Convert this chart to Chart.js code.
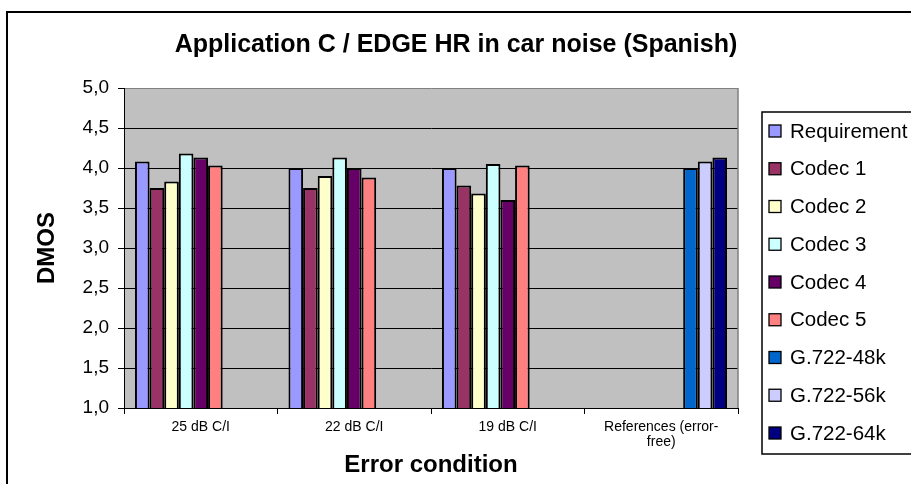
<!DOCTYPE html>
<html>
<head>
<meta charset="utf-8">
<script src="https://cdn.jsdelivr.net/npm/chart.js@4/dist/chart.umd.min.js"></script>
<style>
  html, body { margin: 0; padding: 0; background: #fff; }
  canvas { display: block; }
</style>
</head>
<body>
<canvas id="chart" width="911" height="484"></canvas>
<script>
// Error conditions on the category axis
const categories = ['25 dB C/I', '22 dB C/I', '19 dB C/I', ['References (error-', 'free)']];

// DMOS scores per series (null where the series is not tested)
const requirement = [4.08, 4.00, 4.00, null];
const codec1      = [3.75, 3.75, 3.78, null];
const codec2      = [3.83, 3.90, 3.68, null];
const codec3      = [4.18, 4.13, 4.05, null];
const codec4      = [4.13, 4.00, 3.60, null];
const codec5      = [4.03, 3.88, 4.03, null];
const g722_48k    = [null, null, null, 4.00];
const g722_56k    = [null, null, null, 4.08];
const g722_64k    = [null, null, null, 4.13];

// Value axis tick values
const yTickValues = [1.0, 1.5, 2.0, 2.5, 3.0, 3.5, 4.0, 4.5, 5.0];

const chartTitle = 'Application C / EDGE HR in car noise (Spanish)';
const FONT = "'Liberation Sans', Arial, Helvetica, sans-serif";

const series = [
  { label: 'Requirement', data: requirement, color: '#9999FF' },
  { label: 'Codec 1',     data: codec1,      color: '#993366' },
  { label: 'Codec 2',     data: codec2,      color: '#FFFFCC' },
  { label: 'Codec 3',     data: codec3,      color: '#CCFFFF' },
  { label: 'Codec 4',     data: codec4,      color: '#660066' },
  { label: 'Codec 5',     data: codec5,      color: '#FF8080' },
  { label: 'G.722-48k',   data: g722_48k,    color: '#0066CC' },
  { label: 'G.722-56k',   data: g722_56k,    color: '#CCCCFF' },
  { label: 'G.722-64k',   data: g722_64k,    color: '#000080' }
];

// Frame, grey plot area, title and the boxed legend on the right
const decorations = {
  id: 'decorations',
  beforeDraw(chart) {
    const { ctx, chartArea: a } = chart;
    ctx.save();
    ctx.fillStyle = '#fff';
    ctx.fillRect(0, 0, chart.width, chart.height);
    ctx.strokeStyle = '#000';
    ctx.lineWidth = 2;
    ctx.strokeRect(7, 12, chart.width + 50, chart.height + 50);
    ctx.fillStyle = '#C0C0C0';
    ctx.fillRect(a.left, a.top, a.right - a.left, a.bottom - a.top);
    ctx.restore();
  },
  afterDraw(chart) {
    const { ctx, chartArea: a } = chart;
    ctx.save();
    // right edge of the plot area
    ctx.strokeStyle = '#808080';
    ctx.lineWidth = 1.5;
    ctx.beginPath();
    ctx.moveTo(a.right, a.top);
    ctx.lineTo(a.right, a.bottom);
    ctx.stroke();

    // title
    ctx.fillStyle = '#000';
    ctx.font = 'bold 25px ' + FONT;
    ctx.textAlign = 'center';
    ctx.textBaseline = 'middle';
    ctx.fillText(chartTitle, 456, 45);

    // legend box
    const lx = 762, ly = 112, lw = 170, lh = 342;
    ctx.fillStyle = '#fff';
    ctx.fillRect(lx, ly, lw, lh);
    ctx.strokeStyle = '#000';
    ctx.lineWidth = 1.5;
    ctx.strokeRect(lx, ly, lw, lh);
    ctx.font = '20.5px ' + FONT;
    ctx.textAlign = 'left';
    ctx.textBaseline = 'middle';
    chart.data.datasets.forEach((ds, i) => {
      const cy = 131 + i * 37.75;
      ctx.fillStyle = ds.backgroundColor;
      ctx.fillRect(769, cy - 6, 12, 12);
      ctx.lineWidth = 1.3;
      ctx.strokeStyle = '#000';
      ctx.strokeRect(769, cy - 6, 12, 12);
      ctx.fillStyle = '#000';
      ctx.fillText(ds.label, 790, cy + 1);
    });
    ctx.restore();
  }
};

Chart.defaults.font.family = FONT;
Chart.defaults.color = '#000';

new Chart(document.getElementById('chart'), {
  type: 'bar',
  data: {
    labels: categories,
    datasets: series.map(s => ({
      label: s.label,
      data: s.data,
      backgroundColor: s.color,
      borderColor: '#000',
      borderWidth: 2,
      categoryPercentage: 9 / 10.5,
      barPercentage: 1.0
    }))
  },
  options: {
    responsive: false,
    animation: false,
    devicePixelRatio: 1,
    layout: { padding: { left: 8, top: 88, right: 173, bottom: 0 } },
    plugins: {
      legend: { display: false },
      title: { display: false },
      tooltip: { enabled: false }
    },
    scales: {
      x: {
        grid: { offset: true, drawOnChartArea: false, color: '#000', tickLength: 6, lineWidth: 1 },
        border: { color: '#000', width: 1 },
        ticks: { font: { size: 14, lineHeight: 1.1 }, color: '#000', padding: 5, maxRotation: 0, autoSkip: false },
        title: {
          display: true, text: 'Error condition', color: '#000',
          font: { size: 24, weight: 'bold' }, padding: { top: 0, bottom: 4 }
        },
        afterFit(scale) { scale.height = 76; }
      },
      y: {
        min: 1, max: 5,
        afterBuildTicks(scale) { scale.ticks = yTickValues.map(v => ({ value: v })); },
        ticks: {
          font: { size: 19 }, color: '#000', padding: 9,
          callback: v => v.toFixed(1).replace('.', ',')
        },
        grid: {
          color: c => (c.tick && c.tick.value === 5 ? '#808080' : '#000'),
          tickColor: '#000', tickLength: 6, lineWidth: 1
        },
        border: { color: '#000', width: 1 },
        title: {
          display: true, text: 'DMOS', color: '#000',
          font: { size: 24, weight: 'bold' }, padding: { top: 25, bottom: 0 }
        },
        afterFit(scale) { scale.width = 116; }
      }
    }
  },
  plugins: [decorations]
});
</script>
</body>
</html>
